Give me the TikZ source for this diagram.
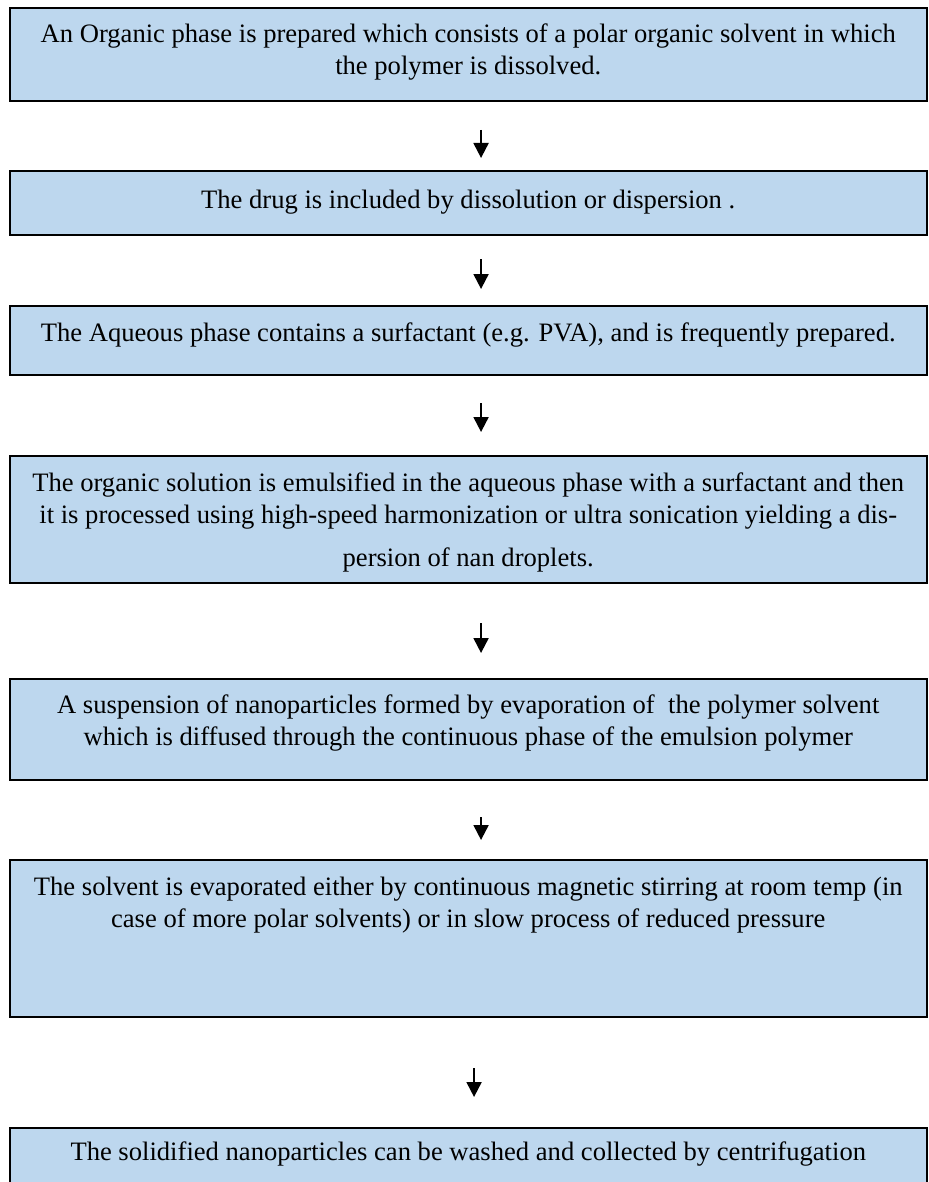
\documentclass[tikz,border=0pt]{standalone}
\usepackage{fontspec}
\setmainfont{Liberation Serif}
\usetikzlibrary{arrows.meta}
\usepackage{xcolor}
\definecolor{boxblue}{RGB}{189,215,238}
\tikzset{
 stage/.style={draw=black, line width=1pt, fill=boxblue, inner sep=0pt, outer sep=0pt, anchor=north west, font=\fontsize{13.3}{16}\selectfont},
 flow/.style={line width=1pt, -{Triangle[width=7.5pt,length=7.5pt]}}
}
\newcommand{\stagetext}[3]{\parbox[c][#1][t]{458.75pt}{\centering\rule{0pt}{#2}#3}}

\begin{document}
\begin{tikzpicture}[x=0.5pt, y=-0.5pt]
\useasboundingbox (0,0) rectangle (928,1182);
\clip (0,0) rectangle (928,1182);
\node[stage] (b1) at (9.5,8) {\stagetext{46.5pt}{17.5pt}{An Organic phase is prepared which consists of a polar organic solvent in which\\ the polymer is dissolved.}};
\node[stage] (b2) at (9.5,171) {\stagetext{32pt}{19pt}{The drug is included by dissolution or dispersion .}};
\node[stage] (b3) at (9.5,306) {\stagetext{34.5pt}{17.5pt}{The Aqueous phase contains a surfactant (e.g. PVA), and is frequently prepared.}};
\node[stage] (b4) at (9.5,456) {\stagetext{63.5pt}{17.5pt}{The organic solution is emulsified in the aqueous phase with a surfactant and then\\ it is processed using high-speed harmonization or ultra sonication yielding a dis-\\[5.5pt] persion of nan droplets.}};
\node[stage] (b5) at (9.5,679) {\stagetext{50.5pt}{17pt}{A suspension of nanoparticles formed by evaporation of~ the polymer solvent\\ which is diffused through the continuous phase of the emulsion polymer}};
\node[stage] (b6) at (9.5,860) {\stagetext{78.5pt}{17.5pt}{The solvent is evaporated either by continuous magnetic stirring at room temp (in\\ case of more polar solvents) or in slow process of reduced pressure}};
\node[stage] (b7) at (9.5,1128) {\stagetext{40pt}{16pt}{The solidified nanoparticles can be washed and collected by centrifugation}};
% arrows between the stages
\foreach \from/\to/\gapA/\gapB/\dx in {b1/b2/14.5/6.5/6.4, b2/b3/12/8.5/6.4, b3/b4/14/12/6.4, b4/b5/20/13/6.4, b5/b6/18.5/10/6.4, b6/b7/25.5/15.5/2.9}
 \draw[flow, shorten <=\gapA pt, shorten >=\gapB pt] ([xshift=\dx pt]\from.south) -- ([xshift=\dx pt]\to.north);
\end{tikzpicture}
\end{document}
